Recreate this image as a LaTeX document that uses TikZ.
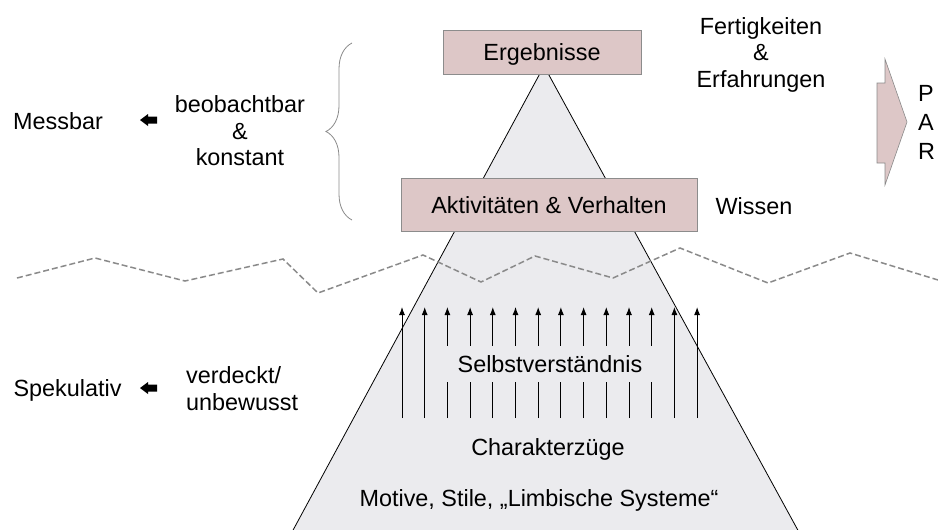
\documentclass[tikz,border=0pt]{standalone}
\usepackage{fontspec}
\setmainfont{Liberation Sans}
\usetikzlibrary{arrows.meta,decorations.pathreplacing}
\definecolor{boxfill}{RGB}{221,199,199}
\definecolor{boxline}{RGB}{140,140,140}
\definecolor{pyrfill}{RGB}{235,235,238}
\definecolor{linegray}{RGB}{138,138,138}

\begin{document}
\begin{tikzpicture}[%
      x=1pt, y=-1pt,
      every node/.style={font=\fontsize{23.4}{26.5}\selectfont, inner sep=0pt},
      lbl/.style={text height=17pt, text depth=0pt},
      box/.style={lbl, draw=boxline, fill=boxfill, line width=0.8pt},
      ]
      \useasboundingbox (0,0) rectangle (938,530);
      \clip (0,0) rectangle (938,530);

      \filldraw [fill=pyrfill, draw=black, line width=0.8pt] (544,66) -- (285,545) -- (806,545) -- cycle;
      \draw [color=linegray, line width=1.5pt, dash pattern=on 6pt off 3pt] (17,278) -- (95,258) -- (185,281) -- (283,259) -- (318,293) -- (423,255) -- (481,282) -- (535,256) -- (613,278) -- (680,248) -- (768,283) -- (850,253) -- (938,280);

      \foreach \i in {0,...,13} {
        \coordinate (u\i) at ({402+22.7*\i},418);
        \coordinate (o\i) at ({402+22.7*\i},307);
        \draw [line width=1pt, -{Latex[length=8pt,width=6pt]}] (u\i) -- (o\i);
      }
      \node [lbl, fill=pyrfill, minimum width=222pt, minimum height=36pt] (selbst) at (550,364) {Selbstverständnis};
      \node [lbl] (charakter) at (548,447) {Charakterzüge};
      \node [lbl] (motive) at (539,498) {Motive, Stile, „Limbische Systeme“};

      \node [box, minimum width=198pt, minimum height=44pt] (erg) at (542,52) {Ergebnisse};
      \node [box, minimum width=296pt, minimum height=53pt] (akt) at (549,204.5) {Aktivitäten \& Verhalten};

      \draw [color=linegray, line width=0.8pt, decorate, decoration={brace, amplitude=26pt}] (352,220) -- (352,43);

      \node [lbl] (mess) at (58,121) {Messbar};
      \node [align=center] (beob) at (240,131) {beobachtbar\\\&\\konstant};
      \node [lbl] (spek) at (67.5,388) {Spekulativ};
      \node [align=left, anchor=west] (verd) at (186,388.5) {verdeckt/\\unbewusst};
      \foreach \y in {120,388}
        \fill [shift={(140,\y)}] (0,0) -- (8,-6) -- (8,-3.5) -- (17,-3.5) -- (17,3.5) -- (8,3.5) -- (8,6) -- cycle;

      \node [align=center] (fert) at (761,54.5) {Fertigkeiten\\\&\\Erfahrungen};
      \node [lbl] (wiss) at (754,206) {Wissen};

      \filldraw [fill=boxfill, draw=linegray, line width=0.6pt] (877,83) -- (885,83) -- (885,59) -- (907,122) -- (885,185) -- (885,163) -- (877,163) -- cycle;
      \node [align=left, anchor=west, font=\fontsize{23.4}{29}\selectfont] (par) at (918,122) {P\\A\\R};
\end{tikzpicture}
\end{document}
